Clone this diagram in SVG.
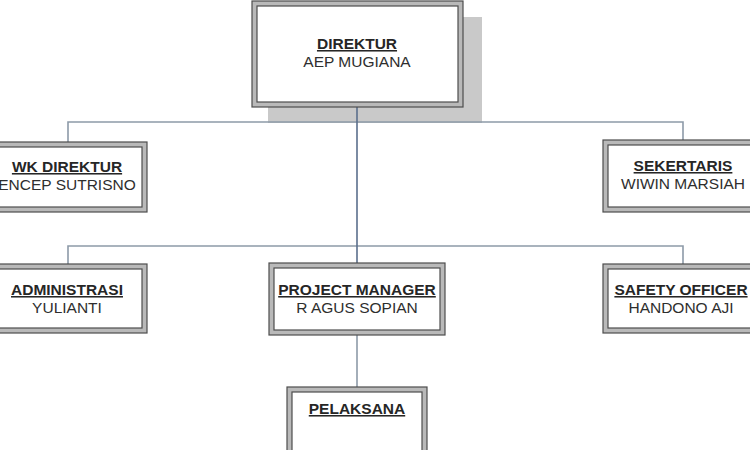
<svg xmlns="http://www.w3.org/2000/svg" width="750" height="450" viewBox="0 0 750 450">
<style>
.bg{fill:#ffffff}
.frame{fill:#b9b9b9;stroke:#4d4d4d;stroke-width:1.2}
.inner{fill:#ffffff;stroke:#4d4d4d;stroke-width:1.2}
.shadow{fill:#c9c9c9}
.conn{fill:none;stroke:#8d9aa8;stroke-width:1.6}
.trunk{fill:none;stroke:#5b6f8c;stroke-width:1.6}
.t{font-family:"Liberation Sans",Arial,sans-serif;font-size:15.5px;fill:#262626;text-anchor:middle;font-weight:bold;text-decoration:underline}
.n{font-family:"Liberation Sans",Arial,sans-serif;font-size:15.5px;fill:#2e2e2e;text-anchor:middle}
</style>
<rect class="bg" x="0" y="0" width="750" height="450"/>
<rect class="shadow" x="268" y="17" width="214" height="106"/>
<g id="connectors">
<path class="conn" d="M68,142 V122 H683 V140"/>
<path class="conn" d="M68,264 V246 H683 V264"/>
<path class="trunk" d="M357,107 V263"/>
<path class="conn" d="M357,335 V387"/>
</g>
<g id="direktur">
<rect class="frame" x="252" y="1" width="211" height="106"/>
<rect class="inner" x="257" y="6" width="201" height="96"/>
<text class="t" x="357" y="49">DIREKTUR</text>
<text class="n" x="357" y="67">AEP MUGIANA</text>
</g>
<g id="wk-direktur">
<rect class="frame" x="-10" y="142" width="157" height="70"/>
<rect class="inner" x="-5" y="147" width="147" height="60"/>
<text class="t" x="67" y="172">WK DIREKTUR</text>
<text class="n" x="67" y="190">ENCEP SUTRISNO</text>
</g>
<g id="sekertaris">
<rect class="frame" x="603" y="140" width="160" height="72"/>
<rect class="inner" x="608" y="145" width="150" height="62"/>
<text class="t" x="683" y="171">SEKERTARIS</text>
<text class="n" x="683" y="189">WIWIN MARSIAH</text>
</g>
<g id="administrasi">
<rect class="frame" x="-10" y="264" width="157" height="69"/>
<rect class="inner" x="-5" y="269" width="147" height="59"/>
<text class="t" x="67" y="295">ADMINISTRASI</text>
<text class="n" x="67" y="313">YULIANTI</text>
</g>
<g id="project-manager">
<rect class="frame" x="269" y="263" width="176" height="72"/>
<rect class="inner" x="274" y="268" width="166" height="62"/>
<text class="t" x="357" y="295">PROJECT MANAGER</text>
<text class="n" x="357" y="313">R AGUS SOPIAN</text>
</g>
<g id="safety-officer">
<rect class="frame" x="603" y="264" width="160" height="69"/>
<rect class="inner" x="608" y="269" width="150" height="59"/>
<text class="t" x="681" y="295">SAFETY OFFICER</text>
<text class="n" x="681" y="313">HANDONO AJI</text>
</g>
<g id="pelaksana">
<rect class="frame" x="287" y="387" width="140" height="72"/>
<rect class="inner" x="292" y="392" width="130" height="62"/>
<text class="t" x="357" y="414">PELAKSANA</text>
</g>
</svg>
